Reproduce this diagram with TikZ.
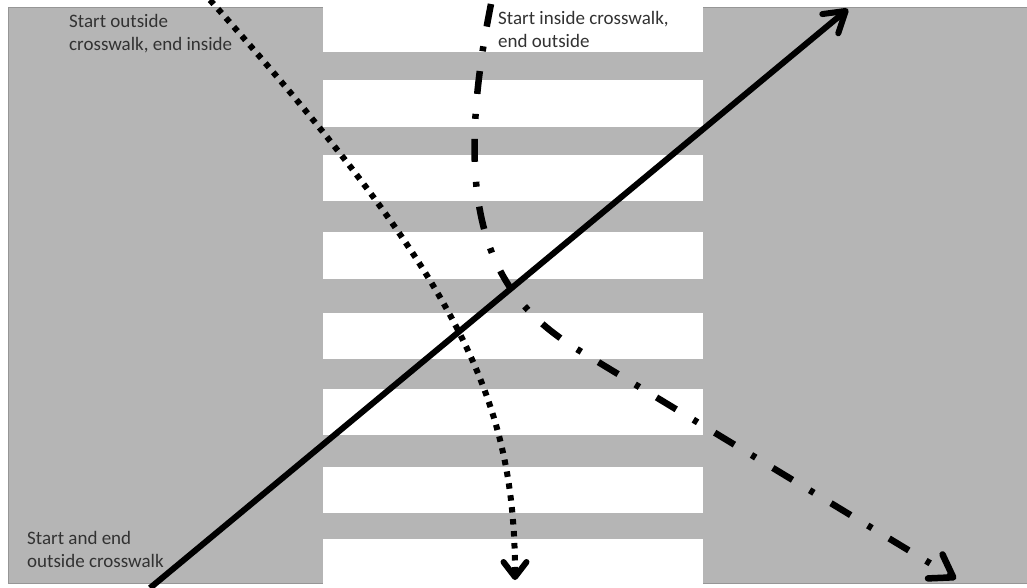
\documentclass[tikz,border=0pt]{standalone}
\usepackage{fontspec}
\setmainfont{Carlito}
\usetikzlibrary{arrows.meta}
\definecolor{road}{RGB}{181,181,181}
\definecolor{roadedge}{RGB}{150,150,150}
\definecolor{labelgray}{RGB}{50,50,50}
\tikzset{
  stripe/.style={fill=white, draw=none},
  pathline/.style={line width=6pt, black},
  solidpath/.style={pathline, -{Straight Barb[length=20pt,width=25pt,round]}},
  dotpath/.style={pathline, dash pattern=on 5.5pt off 6.5pt, -{Straight Barb[length=15pt,width=23pt,round]}},
  dashdotpath/.style={pathline, line width=6.5pt, dash pattern=on 23pt off 20pt on 5pt off 20pt, -{Straight Barb[length=21pt,width=28pt,round]}},
  lbl/.style={font=\fontsize{19}{23}\selectfont, text=labelgray, align=left, anchor=north west, inner sep=0pt}
}
\begin{document}
\begin{tikzpicture}[x=1pt,y=-1pt]
\useasboundingbox (0,0) rectangle (1027,587);
\fill[white] (0,0) rectangle (1027,587);
\begin{scope}
\clip (0,0) rectangle (1027,587);
% road
\filldraw[fill=road, draw=roadedge, line width=1pt] (8,7) rectangle (1040,583);
% crosswalk stripes
\foreach \a/\b in {-5/52, 80/127, 155/201, 232/279, 313/359, 389/435, 467/513, 539/595}
  \fill[stripe] (323,\a) rectangle (703,\b);
\end{scope}
% labels
\node[lbl] (t1) at (69,14) {Start outside\\crosswalk, end inside};
\node[lbl] (t2) at (498,11) {Start inside crosswalk,\\end outside};
\node[lbl] (t3) at (27,531) {Start and end\\outside crosswalk};
% paths
\coordinate (s1) at (150,588);
\coordinate (e1) at (848,9);
\draw[solidpath] (s1) -- (e1);
\coordinate (d0) at (210,0);
\coordinate (d1) at (515,580);
\draw[dotpath] (d0) .. controls (460,280) and (515,400) .. (d1);
\coordinate (c0) at (491,4);
\coordinate (c1) at (580,351);
\coordinate (c2) at (956,579);
\draw[dashdotpath] (c0) .. controls (447,223) and (496,300) .. (c1) -- (c2);
\end{tikzpicture}
\end{document}
